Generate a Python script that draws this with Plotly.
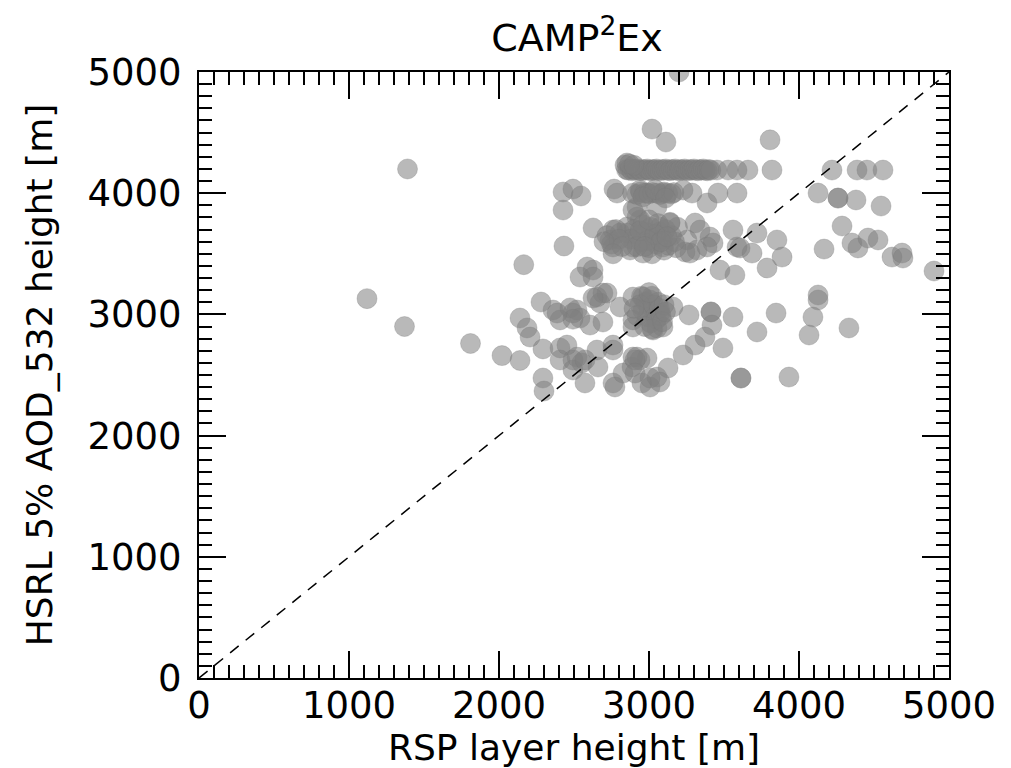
import plotly.graph_objects as go

# RSP layer height [m] (x) and HSRL 5% AOD_532 height [m] (y)
rsp_outliers = [1120, 1370, 1390, 1810, 2020, 2140, 2165, 3200]
hsrl_outliers = [3130, 2900, 4200, 2760, 2660, 2620, 3410, 5000]

rsp_left = [2427, 2427, 2493, 2547, 2627, 2767, 2787, 2840, 3020, 3113, 2140, 2187, 2207, 2280, 2293, 2293,
            2300, 2433, 2587, 2627, 2540, 2653, 2693, 2673, 2360, 2407, 2473, 2493, 2540, 2607, 2693, 2807,
            2407, 2453, 2407, 2520, 2553, 2493, 2573, 2660, 2653, 2760, 2760, 2827, 2893, 2887, 2987, 2953,
            3007, 3053, 2960, 3007, 2893, 3027, 3073, 2760, 2853, 2893, 2960, 3053, 3093, 3073, 2940, 2920,
            3053, 2987, 2940, 2627, 2520, 2493, 2387, 2720, 2627, 2893, 2493, 2573, 2760, 2773, 2920, 2853,
            2740, 2807, 2853, 2920, 2873, 2760]
hsrl_left = [3861, 4010, 4034, 3977, 3713, 4034, 4001, 4232, 4529, 4422, 2970, 2888, 2813, 3102, 2715, 2475,
             2368, 3564, 3391, 3366, 3308, 3143, 3176, 3094, 3036, 2954, 3053, 3011, 2970, 2912, 2937, 3061,
             2723, 2747, 2624, 2648, 2600, 2541, 2434, 2566, 2706, 2747, 2434, 2516, 2648, 2566, 2640, 2434,
             2401, 2483, 3143, 3119, 2954, 2871, 3011, 3696, 3671, 3556, 3506, 3614, 3556, 3721, 3779, 3886,
             3886, 4001, 4026, 3308, 3036, 2960, 3011, 3176, 3135, 3143, 2624, 2624, 2706, 2401, 2648, 4249,
             3614, 3671, 3721, 3803, 3531, 3556]

rsp_mid = [3307, 3340, 3407, 3427, 3253, 3320, 3240, 3560, 3853, 3720, 3140, 2893, 3807, 3587, 3687, 3887,
           3787, 3473, 3573, 3273, 3387, 3607, 3287, 3387, 3460, 3587, 3227, 3093, 4127, 4127, 4093, 4067,
           4333, 3847, 3720, 3560, 3493, 3413, 3413, 3420, 3373, 3307, 3227, 3267, 3160, 3127, 3073, 3613,
           3613, 3933, 2940, 2907, 2907, 3007, 3093, 3053, 2893]
hsrl_mid = [3754, 3696, 3638, 3589, 3614, 3531, 3515, 3696, 3614, 3671, 3754, 3861, 4440, 3556, 3506, 3473,
            3383, 3366, 3325, 3506, 3556, 3548, 4001, 3919, 4001, 4001, 4026, 4001, 3160, 3119, 2978, 2830,
            2888, 3011, 2855, 2978, 2723, 3020, 3020, 2912, 2813, 2747, 2665, 2995, 3061, 2558, 2442, 2475,
            2475, 2483, 2624, 2624, 2516, 2475, 2896, 2888, 2896]

rsp_right = [4127, 4260, 4260, 4380, 4547, 4287, 4353, 4393, 4460, 4527, 4620, 4687, 4693, 4167, 4900,
             3453, 3527, 3587, 3660, 3820, 4220, 4387, 4453, 4560]
hsrl_right = [4001, 3960, 3960, 3944, 3894, 3729, 3589, 3548, 3630, 3614, 3473, 3506, 3465, 3539, 3358,
              4191, 4191, 4191, 4191, 4191, 4191, 4191, 4191, 4191]

# dense band near 4200 m
rsp_band4200 = [2850, 2862, 2875, 2888, 2900, 2912, 2925, 2938, 2950, 2962, 2975, 2988, 3000, 3012, 3025,
                3038, 3050, 3062, 3075, 3088, 3100, 3112, 3125, 3138, 3150, 3162, 3175, 3188, 3200, 3212,
                3225, 3238, 3250, 3262, 3275, 3288, 3300, 3312, 3325, 3338, 3350, 3362, 3375, 3388, 3400,
                3412, 2870, 2900]
hsrl_band4200 = [4195, 4190, 4200, 4185, 4195, 4190, 4200, 4190, 4185, 4195, 4190, 4200, 4190, 4185, 4195,
                 4190, 4200, 4190, 4185, 4195, 4190, 4200, 4190, 4185, 4195, 4190, 4200, 4190, 4185, 4195,
                 4190, 4200, 4190, 4185, 4195, 4190, 4200, 4190, 4185, 4195, 4190, 4200, 4190, 4185, 4195,
                 4190, 4240, 4230]

# dense band near 4000 m
rsp_band4000 = [2890, 2920, 2945, 2970, 3000, 3025, 3050, 3075, 3100, 3125, 3150, 3165, 2960, 3040, 3110]
hsrl_band4000 = [4000, 3990, 4010, 4000, 3995, 4005, 4000, 3990, 4010, 4000, 3995, 4005, 3970, 4030, 3960]

# dense cluster near 3600 m
rsp_c3600 = [2900, 2930, 2950, 2980, 3000, 3010, 3030, 3050, 3070, 3090, 3110, 3130, 3150, 3170, 3190,
             2960, 3020, 2990, 3060, 3100, 2880, 2920, 3140, 3180, 2940, 3040, 3080, 2970, 3120, 3000,
             2720, 2750, 2780, 2800, 2820, 2700, 2760]
hsrl_c3600 = [3700, 3650, 3600, 3680, 3550, 3720, 3640, 3580, 3680, 3620, 3700, 3570, 3650, 3600, 3720,
              3740, 3500, 3610, 3750, 3530, 3620, 3560, 3760, 3550, 3690, 3660, 3600, 3560, 3640, 3780,
              3650, 3580, 3700, 3620, 3560, 3600, 3500]

# dense cluster near 3000 m
rsp_c3000 = [2950, 2980, 3000, 3020, 3040, 3060, 2960, 2990, 3010, 3030, 3050, 3070, 2940, 2920, 3080,
             3100, 2970, 3000, 3020, 3090, 2900, 3110]
hsrl_c3000 = [3150, 3100, 3050, 3150, 3000, 3100, 3030, 2980, 2930, 3080, 2960, 3050, 3080, 2990, 2990,
              3080, 2900, 3180, 2880, 2940, 3050, 3020]

rsp_all = rsp_outliers + rsp_left + rsp_mid + rsp_right + rsp_band4200 + rsp_band4000 + rsp_c3600 + rsp_c3000
hsrl_all = hsrl_outliers + hsrl_left + hsrl_mid + hsrl_right + hsrl_band4200 + hsrl_band4000 + hsrl_c3600 + hsrl_c3000

one_to_one = [0, 5000]

FONT = "DejaVu Sans"

fig = go.Figure()
fig.add_trace(go.Scatter(
    x=rsp_all, y=hsrl_all, mode="markers",
    marker=dict(size=20, color="rgba(128,128,128,0.55)",
                line=dict(color="rgba(120,120,120,0.5)", width=0.6)),
    showlegend=False, hoverinfo="skip"))
fig.add_trace(go.Scatter(
    x=one_to_one, y=one_to_one, mode="lines",
    line=dict(color="black", width=1.5, dash="11px,9px"),
    showlegend=False, hoverinfo="skip"))

axis_common = dict(
    range=[0, 5000], dtick=1000, tick0=0,
    ticks="inside", ticklen=27, tickwidth=1.5, tickcolor="black",
    minor=dict(dtick=100, ticks="inside", ticklen=13, tickwidth=1.5, tickcolor="black", showgrid=False),
    showline=True, linecolor="black", linewidth=2, mirror="allticks",
    showgrid=False, zeroline=False, automargin=False,
    tickfont=dict(family=FONT, size=37, color="black"),
)

# page body adds an 8 px offset, so the figure is sized to fit the window
fig.update_layout(
    width=1003, height=760,
    margin=dict(l=191, r=62, t=64, b=90),
    plot_bgcolor="white", paper_bgcolor="white",
    title=dict(text="CAMP<sup>2</sup>Ex", x=569 / 1003, xanchor="center",
               y=1 - 30 / 760, yanchor="middle", yref="container",
               font=dict(family=FONT, size=38, color="black")),
    xaxis=dict(**axis_common, ticklabelstandoff=-6,
               title=dict(text="RSP layer height [m]", standoff=0,
                          font=dict(family=FONT, size=36, color="black"))),
    yaxis=dict(**axis_common, ticklabelstandoff=8,
               title=dict(text="HSRL 5% AOD_532 height [m]", standoff=24,
                          font=dict(family=FONT, size=36, color="black"))),
)

fig.write_html("out.html")
